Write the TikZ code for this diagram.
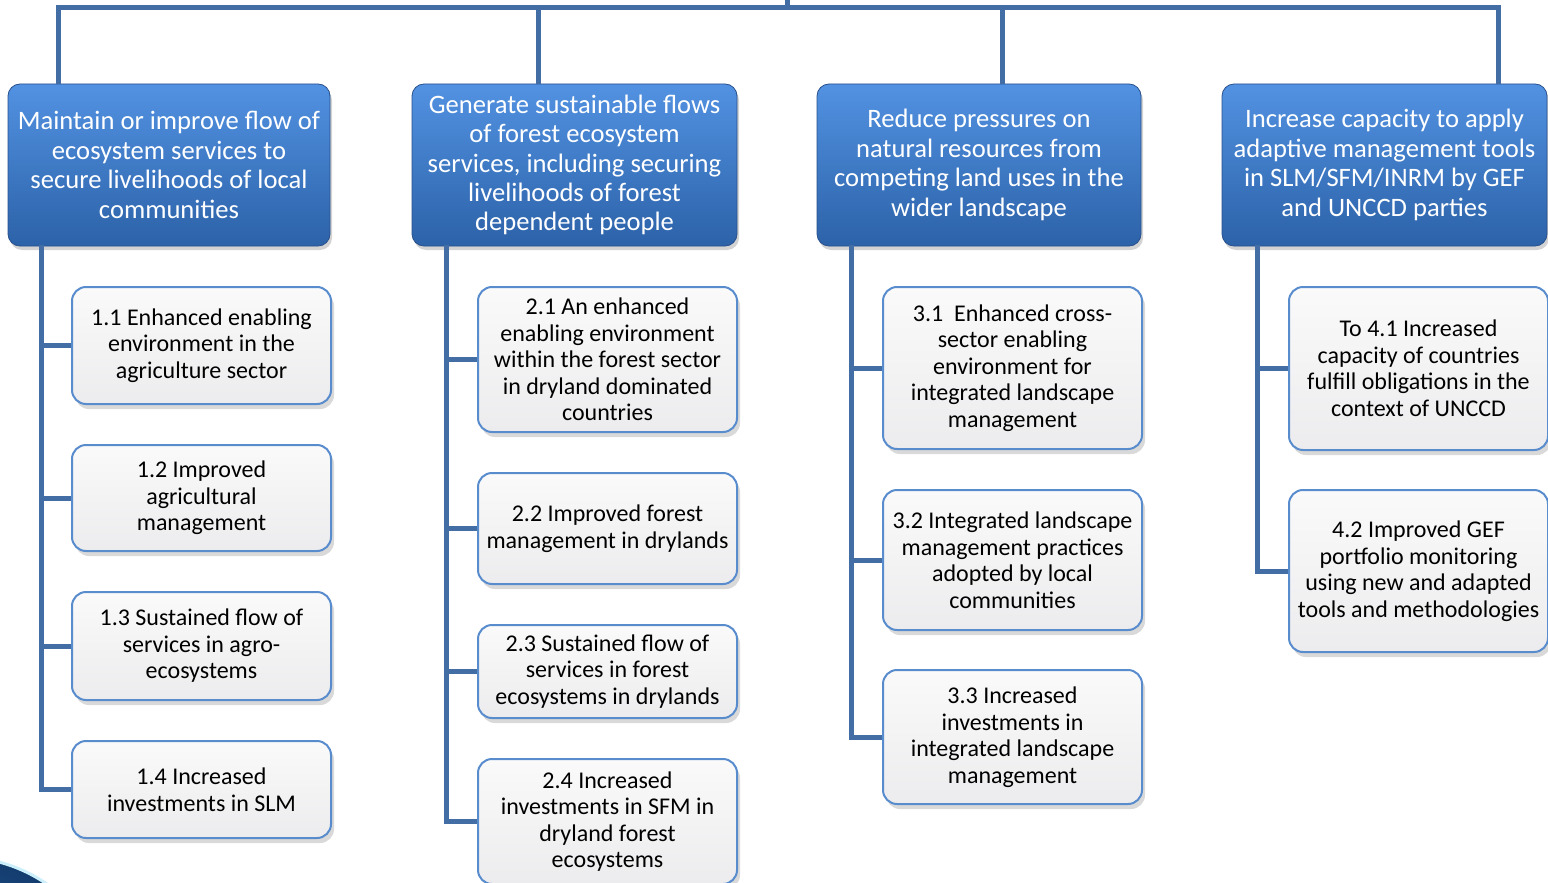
\documentclass[tikz,border=0pt]{standalone}
\usepackage{fontspec}
\setmainfont{Carlito}
\usetikzlibrary{shadows}
\definecolor{connc}{RGB}{66,110,165}
\definecolor{hdrtop}{RGB}{82,146,226}
\definecolor{hdrbot}{RGB}{44,98,168}
\definecolor{hdredge}{RGB}{40,80,140}
\definecolor{kidedge}{RGB}{88,140,205}
\definecolor{kidtop}{RGB}{250,250,250}
\definecolor{kidbot}{RGB}{236,236,238}
\definecolor{logoin}{RGB}{40,110,180}
\definecolor{logoout}{RGB}{20,60,110}
\begin{document}
\begin{tikzpicture}[x=1pt,y=-1pt,
  hdr/.style={draw=hdredge, line width=0.8pt, rounded corners=12pt,
    top color=hdrtop, bottom color=hdrbot, text=white, align=center,
    inner sep=0pt, font=\fontsize{26.6}{29.4}\selectfont,
    drop shadow={shadow xshift=2pt, shadow yshift=-4pt, opacity=0.35}},
  kid/.style={draw=kidedge, line width=2pt, rounded corners=14pt,
    top color=kidtop, bottom color=kidbot, text=black, align=center,
    inner sep=0pt, minimum width=259pt, font=\fontsize{24}{26.5}\selectfont,
    drop shadow={shadow xshift=3pt, shadow yshift=-5pt, opacity=0.3}},
  conn/.style={draw=connc, line width=5pt}
]
\useasboundingbox (0,0) rectangle (1548,883);

% decorative logo fragment
\begin{scope}
\clip (0,0) rectangle (1548,883);
\shade[inner color=logoin, outer color=logoout] (-40,1010) circle (153);
\draw[white!80!cyan, line width=3pt] (-40,1010) circle (153);
\end{scope}

% top connectors
\coordinate (top) at (787,0);
\coordinate (t1) at (58,7.5);
\coordinate (t2) at (538,7.5);
\coordinate (t3) at (1002,7.5);
\coordinate (t4) at (1498,7.5);

% headers
\node[hdr, minimum width=322pt, minimum height=162pt] (h1) at (169,165)
  {Maintain or improve flow of\\ecosystem services to\\secure livelihoods of local\\communities};
\node[hdr, minimum width=325pt, minimum height=162pt] (h2) at (574.5,165)
  {Generate sustainable flows\\of forest ecosystem\\services, including securing\\livelihoods of forest\\dependent people};
\node[hdr, minimum width=324pt, minimum height=162pt] (h3) at (979,165)
  {Reduce pressures on\\natural resources from\\competing land uses in the\\wider landscape};
\node[hdr, minimum width=325pt, minimum height=162pt] (h4) at (1384.5,165)
  {Increase capacity to apply\\adaptive management tools\\in SLM/SFM/INRM by GEF\\and UNCCD parties};

% children column 1
\node[kid, minimum height=117pt] (c11) at (201.5,345.5) {1.1 Enhanced enabling\\environment in the\\agriculture sector};
\node[kid, minimum height=106pt] (c12) at (201.5,498) {1.2 Improved\\agricultural\\management};
\node[kid, minimum height=108pt] (c13) at (201.5,646) {1.3 Sustained flow of\\services in agro-\\ecosystems};
\node[kid, minimum height=97pt] (c14) at (201.5,789.5) {1.4 Increased\\investments in SLM};

% column 2
\node[kid, minimum height=145pt] (c21) at (607.5,359.5) {2.1 An enhanced\\enabling environment\\within the forest sector\\in dryland dominated\\countries};
\node[kid, minimum height=111pt] (c22) at (607.5,528.5) {2.2 Improved forest\\management in drylands};
\node[kid, minimum height=93pt] (c23) at (607.5,671.5) {2.3 Sustained flow of\\services in forest\\ecosystems in drylands};
\node[kid, minimum height=125pt] (c24) at (607.5,821.5) {2.4 Increased\\investments in SFM in\\dryland forest\\ecosystems};

% column 3
\node[kid, minimum height=162pt] (c31) at (1012.5,368) {3.1\ \ Enhanced cross-\\sector enabling\\environment for\\integrated landscape\\management};
\node[kid, minimum height=140pt] (c32) at (1012.5,560) {3.2 Integrated landscape\\management practices\\adopted by local\\communities};
\node[kid, minimum height=134pt] (c33) at (1012.5,737) {3.3 Increased\\investments in\\integrated landscape\\management};

% column 4
\node[kid, minimum height=163pt] (c41) at (1418.5,368.5) {To 4.1 Increased\\capacity of countries\\fulfill obligations in the\\context of UNCCD};
\node[kid, minimum height=162pt] (c42) at (1418.5,571) {4.2 Improved GEF\\portfolio monitoring\\using new and adapted\\tools and methodologies};

% vertical spine anchors
\coordinate (v1) at (41,245);
\coordinate (v2) at (446,245);
\coordinate (v3) at (851,245);
\coordinate (v4) at (1257,245);

% connectors
\draw[conn] (top) -- (top |- t1);
\draw[conn, line cap=rect] (t1) -- (t4);
\draw[conn] (t1) -- (t1 |- h1.north);
\draw[conn] (t2) -- (t2 |- h2.north);
\draw[conn] (t3) -- (t3 |- h3.north);
\draw[conn] (t4) -- (t4 |- h4.north);

\foreach \v/\c in {v1/c11,v1/c12,v1/c13,v1/c14,v2/c21,v2/c22,v2/c23,v2/c24,v3/c31,v3/c32,v3/c33,v4/c41,v4/c42}
  \draw[conn, line join=miter] (\v) |- (\c.west);
\end{tikzpicture}
\end{document}
